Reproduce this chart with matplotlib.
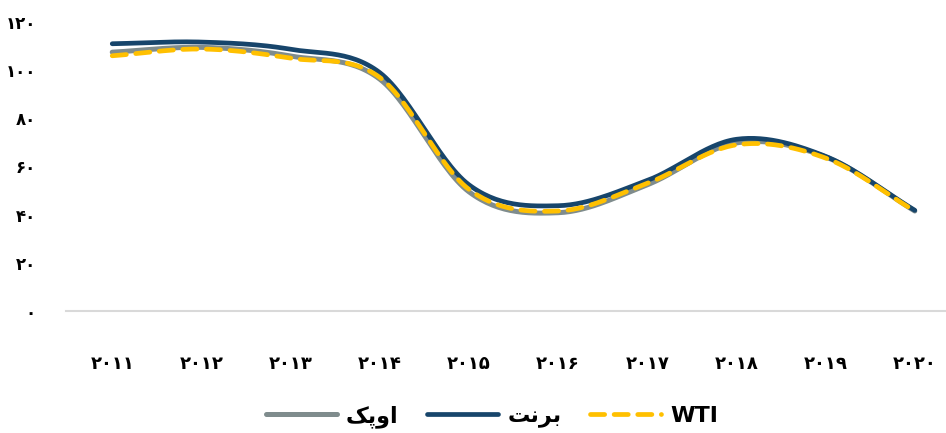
import numpy as np
import matplotlib
matplotlib.use('Agg')
import matplotlib.pyplot as plt

plt.rcParams['font.family'] = ['DejaVu Sans']

# داده‌ها (قیمت سالانه نفت، دلار در بشکه)
years = ['۲۰۱۱', '۲۰۱۲', '۲۰۱۳', '۲۰۱۴', '۲۰۱۵', '۲۰۱۶', '۲۰۱۷', '۲۰۱۸', '۲۰۱۹', '۲۰۲۰']
opec = [107.5, 109.5, 105.9, 96.3, 49.5, 40.8, 52.4, 69.8, 64.0, 41.5]
brent = [111.0, 111.7, 108.7, 99.0, 52.4, 43.7, 54.2, 71.3, 64.2, 41.8]
wti = [106.0, 108.8, 105.0, 97.0, 50.5, 41.5, 53.0, 69.0, 63.5, 41.5]
y_ticks = [0, 20, 40, 60, 80, 100, 120]
y_tick_labels = ['۰', '۲۰', '۴۰', '۶۰', '۸۰', '۱۰۰', '۱۲۰']

# matplotlib حروف فارسی را به هم نمی‌چسباند، پس شکل‌های نمایشی به ترتیب دیداری
label_opec = '\uFB8F\uFB58\uFEED\uFE8D'   # اوپک
label_brent = '\uFE96\uFEE7\uFEAE\uFE91'  # برنت
label_wti = 'WTI'


def smooth(xs, ys, n=30):
    # منحنی catmull-rom شبیه خط صاف اکسل
    xs = np.asarray(xs, float)
    ys = np.asarray(ys, float)
    px = np.concatenate([[2 * xs[0] - xs[1]], xs, [2 * xs[-1] - xs[-2]]])
    py = np.concatenate([[2 * ys[0] - ys[1]], ys, [2 * ys[-1] - ys[-2]]])
    out_x, out_y = [], []
    t = np.linspace(0, 1, n, endpoint=False)
    for i in range(1, len(px) - 2):
        for arr, out in ((px, out_x), (py, out_y)):
            p0, p1, p2, p3 = arr[i - 1], arr[i], arr[i + 1], arr[i + 2]
            out.extend(0.5 * (2 * p1 + (-p0 + p2) * t
                              + (2 * p0 - 5 * p1 + 4 * p2 - p3) * t ** 2
                              + (-p0 + 3 * p1 - 3 * p2 + p3) * t ** 3))
    out_x.append(xs[-1])
    out_y.append(ys[-1])
    return np.array(out_x), np.array(out_y)


x = np.arange(len(years))

fig = plt.figure(figsize=(9.46, 4.33), dpi=100)
ax = fig.add_axes([0.07, 0.282, 0.93, 0.667])

sx, sy = smooth(x, opec)
ax.plot(sx, sy, color='#7F8C8D', linewidth=3.6, solid_capstyle='round', label=label_opec)
sx, sy = smooth(x, brent)
ax.plot(sx, sy, color='#17456B', linewidth=3.4, solid_capstyle='round', label=label_brent)
sx, sy = smooth(x, wti)
ax.plot(sx, sy, color='#FFC000', linewidth=3.4, linestyle=(0, (3, 2)),
        dash_capstyle='round', label=label_wti)

ax.set_xlim(-0.516, 9.35)
ax.set_ylim(0, 120)
ax.set_xticks(x)
ax.set_xticklabels(years, fontsize=13, fontweight='bold')
ax.set_yticks(y_ticks)
ax.set_yticklabels(y_tick_labels, fontsize=12, fontweight='bold')
ax.tick_params(axis='x', length=0, pad=32)
ax.tick_params(axis='y', length=0, pad=22)
for side in ['left', 'right', 'top']:
    ax.spines[side].set_visible(False)
ax.spines['bottom'].set_color('#D9D9D9')
ax.spines['bottom'].set_linewidth(1.5)

leg = fig.legend(loc='center', bbox_to_anchor=(0.52, 0.038), ncol=3, frameon=False,
                 handlelength=3.2, columnspacing=1.3, handletextpad=0.4,
                 prop={'size': 16, 'weight': 'bold'})

fig.savefig('out.png', dpi=100)
